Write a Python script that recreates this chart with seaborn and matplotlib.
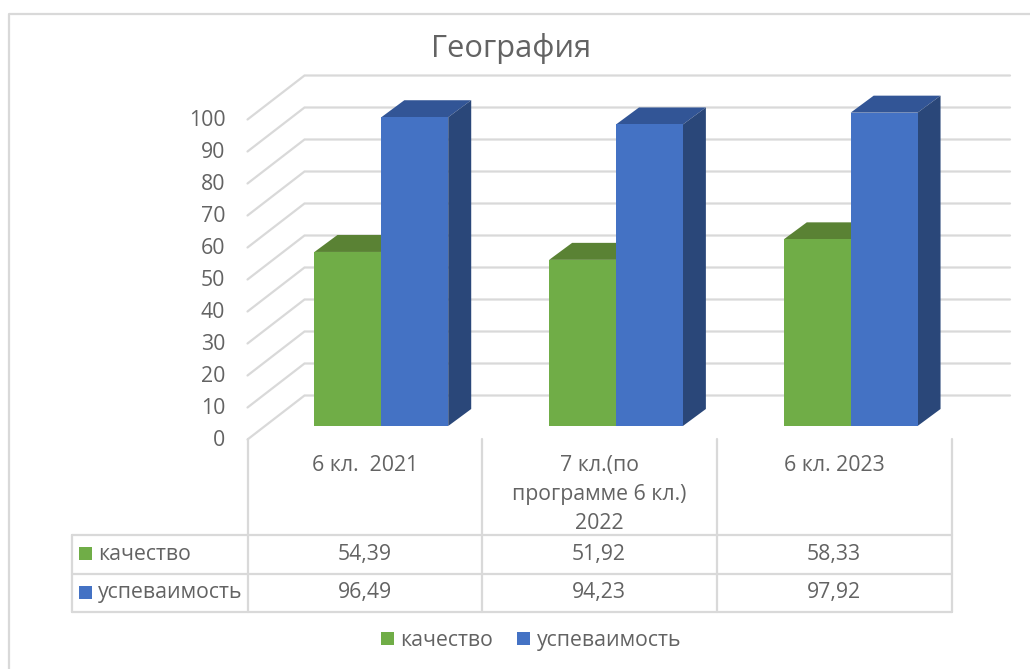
import matplotlib
matplotlib.use("Agg")
import matplotlib.pyplot as plt
import pandas as pd
import seaborn as sns
from matplotlib.patches import Polygon
from matplotlib.transforms import ScaledTranslation

categories = ["6 кл.  2021", "7 кл.(по\nпрограмме 6 кл.)\n2022", "6 кл. 2023"]
kachestvo = [54.39, 51.92, 58.33]
uspevaemost = [96.49, 94.23, 97.92]
series_names = ["качество", "успеваимость"]
y_ticks = [0, 10, 20, 30, 40, 50, 60, 70, 80, 90, 100]

GREEN = "#70AD47"
BLUE = "#4472C4"
GREEN_TOP = "#5A8234"
BLUE_TOP = "#325596"
BLUE_SIDE = "#2A4779"
GRID = "#D9D9D9"
TEXT = "#636363"
FS = 15.3

W, H = 1030, 669

sns.set_theme(style="white")
plt.rcParams["font.family"] = ["Open Sans", "DejaVu Sans"]


def rect(left, top, right, bottom):
    return [left / W, 1 - bottom / H, (right - left) / W, (bottom - top) / H]


df = pd.DataFrame({
    "cat": categories * 2,
    "series": [series_names[0]] * 3 + [series_names[1]] * 3,
    "value": kachestvo + uspevaemost,
})

fig = plt.figure(figsize=(W / 100, H / 100), dpi=100, facecolor="white")

# фон: рамка и таблица в пикселях
bg = fig.add_axes([0, 0, 1, 1])
bg.set_xlim(0, W)
bg.set_ylim(H, 0)
bg.axis("off")
bg.plot([8.5, 8.5, W], [H, 13.5, 13.5], color=GRID, lw=1.6)

col_x = [247.5, 481.5, 716.5, 951.5]
row_y = [535, 573.5, 612]
for y in row_y:
    bg.plot([71.5, col_x[-1]], [y, y], color=GRID, lw=1.6)
bg.plot([71.5, 71.5], [row_y[0], row_y[-1]], color=GRID, lw=1.6)
for x in col_x:
    bg.plot([x, x], [439, row_y[-1]], color=GRID, lw=1.6)

rows = [kachestvo, uspevaemost]
colors = [GREEN, BLUE]
for i, name in enumerate(series_names):
    yc = (row_y[i] + row_y[i + 1]) / 2
    bg.fill_between([79, 92], yc - 7, yc + 6, color=colors[i], lw=0)
    bg.text(98, yc, name, color=TEXT, fontsize=FS, va="center", ha="left")
    for j, v in enumerate(rows[i]):
        bg.text((col_x[j] + col_x[j + 1]) / 2, yc, f"{v:.2f}".replace(".", ","),
                color=TEXT, fontsize=FS, va="center", ha="center")

bg.text(511, 49, "География", color=TEXT, fontsize=22.2, va="center", ha="center")

# передняя плоскость: ось Y, подписи категорий, сетка
front = fig.add_axes(rect(247.5, 119.5, 951.5, 439.5), facecolor="none")
front.set_xlim(-0.5, 2.5)
front.set_ylim(0, 100)
front.set_yticks(y_ticks)
front.set_xticks(range(3))
front.set_xticklabels(categories, linespacing=1.5)
front.tick_params(axis="y", length=0, pad=16, labelsize=FS, labelcolor=TEXT)
front.tick_params(axis="x", length=0, pad=11, labelsize=FS, labelcolor=TEXT)
sns.despine(ax=front, left=True, bottom=True)
nudge = ScaledTranslation(0, 1 / 100, fig.dpi_scale_trans)
for label in front.get_yticklabels():
    label.set_transform(label.get_transform() + nudge)

px_x = 3 / 704
px_y = 100 / 320
wall_dx, wall_dy = 57 * px_x, 44 * px_y
right_x = -0.5 + (1010 - 247.5) * px_x
for t in y_ticks:
    front.plot([-0.5, -0.5 + wall_dx, right_x], [t, t + wall_dy, t + wall_dy],
               color=GRID, lw=1.6, clip_on=False, solid_joinstyle="miter")

# столбцы, сдвинутые вглубь
ax = fig.add_axes(rect(264, 106, 968, 426), facecolor="none")
sns.barplot(data=df, x="cat", y="value", hue="series", order=categories,
            hue_order=series_names, palette=colors, width=0.57, gap=0,
            saturation=1, ax=ax, zorder=3, linewidth=0, edgecolor="none")
ax.set_xlim(-0.5, 2.5)
ax.set_ylim(0, 100)
ax.axis("off")

depth_x, depth_y = 23 * px_x, 17 * px_y
for container, top_c, side_c in zip(ax.containers, [GREEN_TOP, BLUE_TOP], [GREEN_TOP, BLUE_SIDE]):
    for bar in container:
        x0, w, h = bar.get_x(), bar.get_width(), bar.get_height()
        x1 = x0 + w
        ax.add_patch(Polygon([(x0, h), (x1, h), (x1 + depth_x, h + depth_y), (x0 + depth_x, h + depth_y)],
                             closed=True, fc=top_c, ec="none", zorder=2, clip_on=False))
        ax.add_patch(Polygon([(x1, 0), (x1 + depth_x, depth_y), (x1 + depth_x, h + depth_y), (x1, h)],
                             closed=True, fc=side_c, ec="none", zorder=2, clip_on=False))

handles = ax.get_legend().legend_handles
ax.get_legend().remove()
fig.legend(handles, series_names, loc="center", bbox_to_anchor=(531 / W, 1 - 640.5 / H),
           ncols=2, frameon=False, fontsize=FS, labelcolor=TEXT, handlelength=0.6,
           handleheight=0.6, handletextpad=0.33, columnspacing=1.1, borderpad=0)

fig.savefig("out.png", dpi=100)
plt.close(fig)
